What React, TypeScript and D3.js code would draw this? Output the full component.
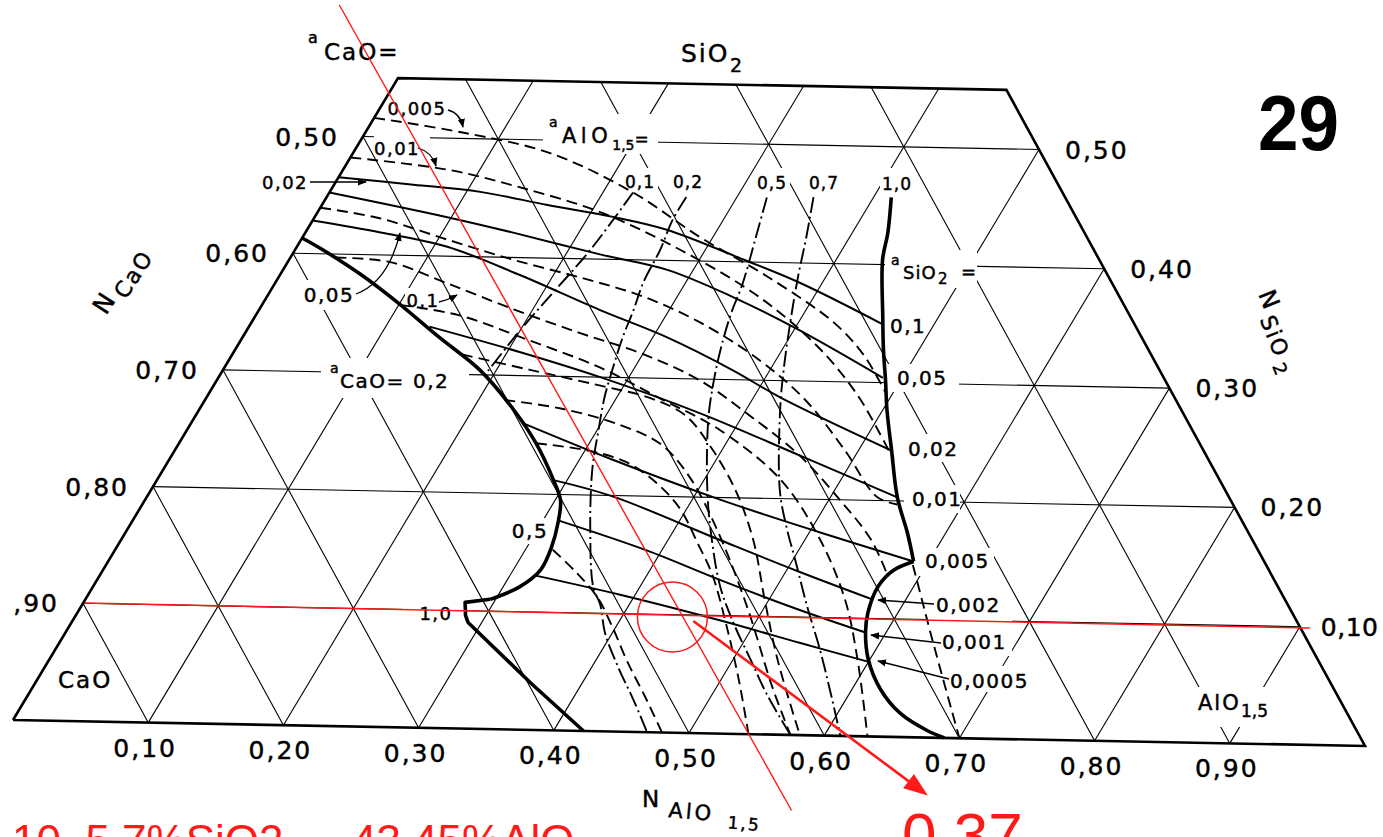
import React from "react";
import * as d3 from "d3";

// Composition pairs are [N_AlO1.5, N_SiO2]; N_CaO = 1 - both.
type Pt = [number, number];

const GRID = [0.1, 0.2, 0.3, 0.4, 0.5, 0.6, 0.7, 0.8, 0.9];
const SI_MAX = 0.55;

const alTickValues = [0.1, 0.2, 0.3, 0.4, 0.5, 0.6, 0.7, 0.8, 0.9];
const alTickLabels = ["0,10", "0,20", "0,30", "0,40", "0,50", "0,60", "0,70", "0,80", "0,90"];
const caoTickValues = [0.5, 0.6, 0.7, 0.8, 0.9];
const caoTickLabels = ["0,50", "0,60", "0,70", "0,80", ",90"];
const siTickValues = [0.5, 0.4, 0.3, 0.2, 0.1];
const siTickLabels = ["0,50", "0,40", "0,30", "0,20", "0,10"];

// Liquid boundary on the CaO side (smooth part, then the notch down to the binary)
const boundaryCaOCurve: Pt[] = [
  [0, 0.413], [0.021, 0.403], [0.059, 0.383], [0.098, 0.36], [0.144, 0.331], [0.188, 0.304],
  [0.23, 0.271], [0.261, 0.243], [0.29, 0.212], [0.304, 0.195], [0.312, 0.176], [0.318, 0.155],
  [0.32, 0.136], [0.312, 0.121], [0.296, 0.11],
];
const boundaryCaONotch: Pt[] = [
  [0.296, 0.11], [0.279, 0.107], [0.285, 0.096], [0.29, 0.09], [0.362, 0.04], [0.422, 0],
];
// Liquid boundary on the alumina side (a_AlO1.5 = 1,0) and the lower arc
const boundaryAlUpper: Pt[] = [
  [0.413, 0.457], [0.426, 0.427], [0.434, 0.404], [0.459, 0.356], [0.474, 0.328], [0.489, 0.302],
  [0.503, 0.277], [0.524, 0.243], [0.549, 0.203], [0.572, 0.173], [0.589, 0.149],
];
const boundaryAlArc: Pt[] = [
  [0.589, 0.149], [0.578, 0.141], [0.574, 0.127], [0.578, 0.105], [0.585, 0.088], [0.599, 0.065],
  [0.621, 0.04], [0.646, 0.02], [0.673, 0.006], [0.689, 0],
];
// dashed continuation of the alumina-side boundary below the arc
const boundaryAlExtension: Pt[] = [[0.59, 0.146], [0.612, 0.1165], [0.637, 0.083], [0.7, 0]];

// iso-a_SiO2 curves (solid)
const aSiO2Labels = ["0,1", "0,05", "0,02", "0,01", "0,005", "0,002", "0,001", "0,0005"];
const isoSiO2: Pt[][] = [
  [[0, 0.465], [0.058, 0.46], [0.11, 0.455], [0.165, 0.445], [0.218, 0.436], [0.263, 0.426], [0.332, 0.402], [0.384, 0.383], [0.461, 0.35]],
  [[0, 0.452], [0.097, 0.433], [0.152, 0.421], [0.225, 0.404], [0.281, 0.392], [0.341, 0.37], [0.404, 0.343], [0.486, 0.304]],
  [[0, 0.428], [0.055, 0.419], [0.11, 0.408], [0.176, 0.385], [0.249, 0.357], [0.31, 0.335], [0.373, 0.308], [0.419, 0.286], [0.523, 0.243]],
  [[0.132, 0.34], [0.209, 0.32], [0.279, 0.3], [0.368, 0.271], [0.459, 0.237], [0.549, 0.203]],
  [[0.242, 0.26], [0.325, 0.23], [0.421, 0.198], [0.508, 0.172], [0.589, 0.149]],
  [[0.29, 0.212], [0.341, 0.199], [0.438, 0.164], [0.511, 0.138], [0.576, 0.116]],
  [[0.311, 0.178], [0.389, 0.154], [0.456, 0.13], [0.527, 0.106], [0.585, 0.088]],
  [[0.318, 0.131], [0.389, 0.116], [0.473, 0.096], [0.542, 0.078], [0.601, 0.063]],
];

// iso-a_CaO curves (dashed)
const isoCaO: Pt[][] = [
  [[0, 0.516], [0.071, 0.505], [0.144, 0.489], [0.222, 0.457], [0.291, 0.42], [0.357, 0.388], [0.426, 0.35], [0.462, 0.323], [0.494, 0.292]],
  [[0, 0.482], [0.078, 0.473], [0.135, 0.46], [0.206, 0.44], [0.282, 0.409], [0.361, 0.37], [0.428, 0.327], [0.475, 0.289], [0.505, 0.26], [0.53, 0.2345]],
  [[0, 0.439], [0.048, 0.431], [0.107, 0.414], [0.164, 0.398], [0.221, 0.384], [0.272, 0.37], [0.328, 0.348], [0.388, 0.317], [0.439, 0.284], [0.49, 0.242], [0.534, 0.203], [0.552, 0.197]],
  [[0.033, 0.397], [0.075, 0.394], [0.126, 0.377], [0.186, 0.356], [0.245, 0.337], [0.298, 0.321], [0.353, 0.299], [0.405, 0.27], [0.459, 0.237], [0.508, 0.2], [0.548, 0.167], [0.575, 0.138]],
  [[0.101, 0.358], [0.149, 0.35], [0.211, 0.33], [0.275, 0.308], [0.332, 0.283], [0.39, 0.257], [0.456, 0.216], [0.511, 0.166], [0.556, 0.115], [0.591, 0.065], [0.632, 0]],
  [[0.168, 0.317], [0.2245, 0.305], [0.282, 0.293], [0.325, 0.283], [0.358, 0.269], [0.389, 0.244], [0.427, 0.207], [0.462, 0.165], [0.497, 0.114], [0.533, 0.063], [0.582, 0]],
  [[0.219, 0.279], [0.263, 0.273], [0.314, 0.26], [0.353, 0.244], [0.388, 0.217], [0.432, 0.172], [0.487, 0.108], [0.541, 0.04], [0.575, 0]],
  [[0.261, 0.243], [0.3, 0.238], [0.334, 0.229], [0.367, 0.211], [0.396, 0.189], [0.423, 0.161], [0.448, 0.134], [0.48, 0.092], [0.513, 0.046], [0.544, 0]],
  [[0.32, 0.153], [0.346, 0.135], [0.374, 0.113], [0.398, 0.088], [0.424, 0.059], [0.452, 0.03], [0.48, 0]],
];

// iso-a_AlO1.5 curves (dash-dot)
const aAlLabels = ["0,1", "0,2", "0,5", "0,7", "1,0"];
const isoAl: Pt[][] = [
  [[0.222, 0.457], [0.216, 0.408], [0.206, 0.365], [0.2, 0.339], [0.194, 0.302]],
  [[0.263, 0.454], [0.263, 0.434], [0.267, 0.409], [0.269, 0.381], [0.274, 0.357], [0.278, 0.334], [0.284, 0.309], [0.291, 0.283], [0.301, 0.255], [0.314, 0.221], [0.34, 0.168], [0.366, 0.122], [0.379, 0.107], [0.395, 0.083], [0.419, 0.055], [0.445, 0.027], [0.469, 0]],
  [[0.322, 0.455], [0.332, 0.419], [0.342, 0.382], [0.347, 0.355], [0.355, 0.325], [0.365, 0.295], [0.377, 0.265], [0.408, 0.204], [0.432, 0.164], [0.459, 0.124], [0.486, 0.092], [0.513, 0.063], [0.54, 0.034], [0.575, 0]],
  [[0.356, 0.456], [0.369, 0.42], [0.379, 0.39], [0.393, 0.352], [0.41, 0.309], [0.425, 0.275], [0.46, 0.207], [0.481, 0.176], [0.502, 0.148], [0.531, 0.109], [0.559, 0.073], [0.584, 0.039], [0.612, 0]],
];

// Marked composition and its reading
const markedPoint: Pt = [0.437, 0.098];
const markSiLine: Pt[] = [[0.001, 0.1003], [0.908, 0.099]];
const markCaLine: Pt[] = [[-0.075, 0.611], [0.609, -0.064]];
const markArrow: Pt[] = [[0.454, 0.095], [0.702, -0.049]];
const markReading = "0,37";
const markNote = "10, 5,7%SiO2 — 43,45%AlO";

const FONT = "'DejaVu Sans', 'Liberation Sans', sans-serif";
const SANS = "'Liberation Sans', Arial, sans-serif";
const RED = "#ff1a1a";

export default function App() {
  const xAl = d3.scaleLinear().domain([0, 1]).range([13, 1365]);
  const yAl = d3.scaleLinear().domain([0, 1]).range([720, 746]);
  const xSi = d3.scaleLinear().domain([0, 1]).range([0, 700]);
  const ySi = d3.scaleLinear().domain([0, 1]).range([0, -1167]);
  const P = (a: number, s: number): [number, number] => [xAl(a) + xSi(s), yAl(a) + ySi(s)];

  const smooth = d3.line<Pt>().x((d) => P(d[0], d[1])[0]).y((d) => P(d[0], d[1])[1]).curve(d3.curveCatmullRom.alpha(0.5));
  const straight = d3.line<Pt>().x((d) => P(d[0], d[1])[0]).y((d) => P(d[0], d[1])[1]);

  const frame: Pt[] = [[0, 0], [1, 0], [1 - SI_MAX, SI_MAX], [0, SI_MAX], [0, 0]];

  const gridSegs: Pt[][] = [];
  [0.1, 0.2, 0.3, 0.4, 0.5].forEach((s) => gridSegs.push([[0, s], [1 - s, s]]));
  GRID.forEach((a) => gridSegs.push([[a, 0], [a, Math.min(SI_MAX, 1 - a)]]));
  GRID.forEach((c) => {
    const sTop = Math.min(SI_MAX, 1 - c);
    gridSegs.push([[1 - c, 0], [1 - c - sTop, sTop]]);
  });

  // areas kept clear of grid lines around lettering
  const clear: [number, number, number, number][] = [
    [374, 131, 56, 12], [543, 114, 115, 40],
    [624, 168, 34, 26], [672, 168, 34, 26], [756, 168, 34, 26], [808, 168, 34, 26], [880, 168, 34, 26],
    [885, 250, 92, 38], [887, 312, 36, 26], [886, 364, 73, 28], [902, 434, 62, 28], [904, 485, 56, 28],
    [918, 548, 76, 28], [928, 592, 84, 64], [945, 666, 86, 26],
    [298, 280, 62, 30], [405, 288, 38, 22], [321, 358, 148, 40], [508, 518, 44, 26], [402, 598, 62, 26],
    [1180, 687, 110, 40],
  ];

  const arrows: string[] = [
    "M448,110 Q460,113 463,127",
    "M418,148 Q432,152 436,166",
    "M310,182 L366,182",
    "M356,294 Q388,282 400,233",
    "M439,302 Q448,300 457,295",
    "M934,604 L878,600",
    "M941,643 L871,635",
    "M949,679 L878,661",
  ];

  const rightLabelPos: [number, number][] = [
    [890, 333], [897, 385], [908, 456], [912, 506], [925, 568], [936, 612], [942, 649], [950, 688],
  ];
  const topLabelPos: [number, number][] = [[640, 188], [688, 188], [772, 189], [824, 189], [897, 190]];

  const [ax0, ay0] = P(markArrow[0][0], markArrow[0][1]);
  const [ax1, ay1] = P(markArrow[1][0], markArrow[1][1]);
  const ang = Math.atan2(ay1 - ay0, ax1 - ax0);
  const headLen = 24, headW = 9;
  const hb: [number, number] = [ax1 - headLen * Math.cos(ang), ay1 - headLen * Math.sin(ang)];
  const head = [
    [ax1, ay1],
    [hb[0] + headW * Math.sin(ang), hb[1] - headW * Math.cos(ang)],
    [hb[0] - headW * Math.sin(ang), hb[1] + headW * Math.cos(ang)],
  ].map((p) => p.join(",")).join(" ");
  const [mcx, mcy] = P(markedPoint[0], markedPoint[1]);

  const txt = { fontFamily: FONT, fill: "#000", stroke: "#000", strokeWidth: 0.45 } as const;

  return (
    <svg width={1383} height={837} style={{ position: "absolute", left: 0, top: 0, background: "#fff" }}>
      <defs>
        <marker id="ah" viewBox="0 0 10 10" refX="9" refY="5" markerWidth="9" markerHeight="9" markerUnits="userSpaceOnUse" orient="auto">
          <path d="M0,1 L10,5 L0,9 Z" fill="#000" />
        </marker>
      </defs>
      <rect x={0} y={0} width={1383} height={837} fill="#fff" />

      {/* grid */}
      <g stroke="#000" strokeWidth={1.1} fill="none">
        {gridSegs.map((g, i) => <path key={i} d={straight(g) || ""} />)}
      </g>
      <g fill="#fff">
        {clear.map((r, i) => <rect key={i} x={r[0]} y={r[1]} width={r[2]} height={r[3]} />)}
      </g>
      <path d={straight(frame) || ""} fill="none" stroke="#000" strokeWidth={2.6} strokeLinejoin="miter" />

      {/* activity curves */}
      <g fill="none" stroke="#000" strokeWidth={2} strokeLinecap="butt">
        {isoSiO2.map((c, i) => <path key={"s" + i} d={smooth(c) || ""} />)}
        {isoCaO.map((c, i) => <path key={"c" + i} d={smooth(c) || ""} strokeDasharray="11 6" strokeWidth={1.9} />)}
        <path d={smooth(boundaryAlExtension) || ""} strokeDasharray="11 6" strokeWidth={1.9} />
        {isoAl.map((c, i) => <path key={"a" + i} d={smooth(c) || ""} strokeDasharray="16 4 2 4" strokeWidth={1.9} />)}
      </g>
      <g fill="none" stroke="#000" strokeWidth={3.6} strokeLinejoin="round">
        <path d={smooth(boundaryCaOCurve) || ""} />
        <path d={straight(boundaryCaONotch) || ""} />
        <path d={smooth(boundaryAlUpper) || ""} />
        <path d={smooth(boundaryAlArc) || ""} />
      </g>

      {/* leader arrows */}
      <g fill="none" stroke="#000" strokeWidth={1.3}>
        {arrows.map((d, i) => <path key={i} d={d} markerEnd="url(#ah)" />)}
      </g>

      {/* axis tick labels */}
      <g style={txt} fontSize={25} letterSpacing={2}>
        {alTickValues.map((v, i) => {
          const [x, y] = P(v, 0);
          return <text key={i} x={x - 3} y={y + 34} textAnchor="middle">{alTickLabels[i]}</text>;
        })}
        {caoTickValues.map((v, i) => {
          const [x, y] = P(0, 1 - v);
          return <text key={i} x={x - 24} y={y + 9} textAnchor="end">{caoTickLabels[i]}</text>;
        })}
        {siTickValues.map((v, i) => {
          const [x, y] = P(1 - v, v);
          const last = i === siTickValues.length - 1;
          return (
            <text key={i} x={x + (last ? 21 : 26)} y={y + 9} letterSpacing={last ? 0.5 : 2}>{siTickLabels[i]}</text>
          );
        })}
      </g>

      {/* curve labels */}
      <g style={txt} fontSize={17} letterSpacing={1}>
        {aAlLabels.map((l, i) => <text key={i} x={topLabelPos[i][0]} y={topLabelPos[i][1]} textAnchor="middle">{l}</text>)}
      </g>
      <g style={txt} fontSize={20} letterSpacing={1.5}>
        {aSiO2Labels.map((l, i) => <text key={i} x={rightLabelPos[i][0]} y={rightLabelPos[i][1]}>{l}</text>)}
      </g>
      <g style={txt} letterSpacing={1.5}>
        <text x={417} y={115} fontSize={18} textAnchor="middle">0,005</text>
        <text x={397} y={155} fontSize={18} textAnchor="middle">0,01</text>
        <text x={285} y={189} fontSize={18} textAnchor="middle">0,02</text>
        <text x={329} y={302} fontSize={20} textAnchor="middle">0,05</text>
        <text x={423} y={307} fontSize={18} textAnchor="middle">0,1</text>
        <text x={330} y={373} fontSize={14}>a</text>
        <text x={340} y={388} fontSize={20}>CaO=</text>
        <text x={413} y={388} fontSize={20}>0,2</text>
        <text x={530} y={538} fontSize={20} textAnchor="middle">0,5</text>
        <text x={436} y={620} fontSize={18} textAnchor="middle">1,0</text>
      </g>

      {/* activity headers */}
      <g style={txt}>
        <text x={308} y={43} fontSize={16}>a</text>
        <text x={324} y={60} fontSize={23} letterSpacing={2}>CaO=</text>
        <text x={681} y={62} fontSize={25} letterSpacing={2}>SiO</text>
        <text x={730} y={72} fontSize={19}>2</text>
        <text x={549} y={127} fontSize={14}>a</text>
        <text x={562} y={143} fontSize={21}>
          <tspan letterSpacing={4.5}>AlO</tspan>
          <tspan fontSize={14} dy={7}>1,5</tspan>
          <tspan fontSize={17} dy={-5}>=</tspan>
        </text>
        <text x={891} y={265} fontSize={14}>a</text>
        <text x={903} y={279} fontSize={18} letterSpacing={1}>SiO</text>
        <text x={938} y={284} fontSize={15}>2</text>
        <text x={961} y={278} fontSize={18}>=</text>
        <text x={58} y={688} fontSize={23} letterSpacing={2}>CaO</text>
        <text x={1198} y={710} fontSize={21} letterSpacing={2}>AlO</text>
        <text x={1241} y={717} fontSize={17}>1,5</text>
      </g>

      {/* axis titles */}
      <g style={txt} letterSpacing={2}>
        <g transform="translate(106,316) rotate(-57)">
          <text x={0} y={0} fontSize={25}>N</text>
          <text x={24} y={8} fontSize={22}>CaO</text>
        </g>
        <g transform="translate(1258,294) rotate(68)">
          <text x={0} y={0} fontSize={24}>N</text>
          <text x={24} y={8} fontSize={22}>SiO</text>
          <text x={72} y={14} fontSize={18}>2</text>
        </g>
        <text x={642} y={807} fontSize={23}>N</text>
        <g transform="translate(668,817) rotate(5)">
          <text x={0} y={0} fontSize={21} letterSpacing={3}>AlO</text>
          <text x={60} y={6} fontSize={17}>1,5</text>
        </g>
      </g>
      <text x={1258} y={150} fontFamily={SANS} fontWeight="bold" fontSize={78} textLength={81} lengthAdjust="spacingAndGlyphs">29</text>

      {/* marked composition */}
      <g stroke={RED} fill="none">
        <path d={straight(markSiLine) || ""} strokeWidth={1.5} />
        <path d={straight(markCaLine) || ""} strokeWidth={1.4} />
        <circle cx={mcx} cy={mcy} r={35} strokeWidth={1.5} />
        <line x1={ax0} y1={ay0} x2={hb[0]} y2={hb[1]} strokeWidth={2.6} />
      </g>
      <polygon points={head} fill={RED} />
      <text x={902} y={856} fill={RED} fontFamily={SANS} fontSize={62}>{markReading}</text>
      <text x={12} y={856} fill={RED} fontFamily={SANS} fontSize={44}>{markNote}</text>
    </svg>
  );
}
